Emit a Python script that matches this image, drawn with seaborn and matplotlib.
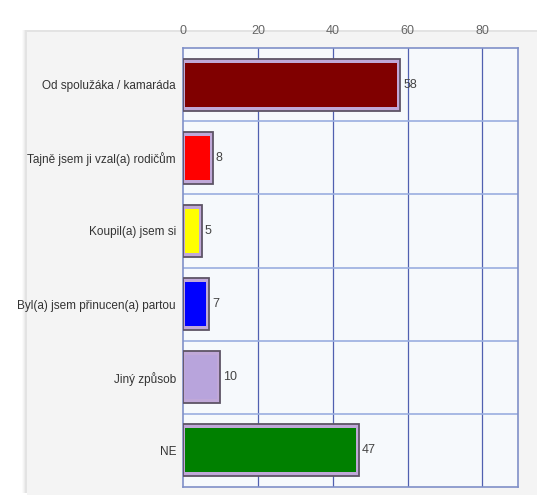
import matplotlib
matplotlib.use("Agg")
import matplotlib.pyplot as plt
import seaborn as sns
import pandas as pd
from matplotlib.patches import Rectangle

categories = ["Od spolužáka / kamaráda", "Tajně jsem ji vzal(a) rodičům", "Koupil(a) jsem si",
              "Byl(a) jsem přinucen(a) partou", "Jiný způsob", "NE"]
values = [58, 8, 5, 7, 10, 47]
colors = ["#800000", "#ff0000", "#ffff00", "#0000ff", "#b8a4dc", "#008000"]
xticks = [0, 20, 40, 60, 80]

df = pd.DataFrame({"cat": categories, "val": values})

sns.set_style("white")
plt.rcParams['font.family'] = ['Liberation Sans', 'DejaVu Sans']

W, H = 537, 501
fig = plt.figure(figsize=(W / 100, H / 100), dpi=100, facecolor="white")

# panel background with soft left shadow
for i, a in enumerate([0.05, 0.08, 0.12, 0.18]):
    fig.patches.append(Rectangle(((22 + i) / W, 8 / H), (W - 22 - i) / W, (H - 38) / H,
                                 transform=fig.transFigure, facecolor="#bbbbbb", alpha=a,
                                 edgecolor="none", zorder=-10))
fig.patches.append(Rectangle((27 / W, 6 / H), (W - 27) / W, (H - 38) / H,
                             transform=fig.transFigure, facecolor="#f4f4f4",
                             edgecolor="none", zorder=-9))

ax = fig.add_axes([183 / W, 1 - 487 / H, (518 - 183) / W, (487 - 48) / H])
ax.set_zorder(1)
ax.set_facecolor("#f6f9fc")

# outer (frame) bars
sns.barplot(data=df, x="val", y="cat", orient="h", ax=ax, width=0.71, saturation=1,
            color="#c0a8d8", edgecolor="#5e5466", linewidth=1.3, zorder=3)
# inner coloured bars
sns.barplot(data=df, x="val", y="cat", orient="h", ax=ax, width=0.6, saturation=1,
            hue="cat", palette=colors, legend=False, edgecolor="none",
            linewidth=0, zorder=4)
# shrink inner bars slightly from both ends
for p in ax.patches[len(values):]:
    p.set_x(p.get_x() + 0.5)
    p.set_width(max(p.get_width() - 1.3, 0.5))

for i, v in enumerate(values):
    ax.text(v + 0.8, i, str(v), va="center", ha="left", fontsize=9, color="#444444", zorder=5)

ax.set_xlim(0, 89.5)
ax.set_ylim(len(values) - 0.5, -0.5)
ax.set_xticks(xticks)
ax.xaxis.tick_top()
ax.tick_params(axis="x", length=0, labelsize=9, labelcolor="#666666", pad=8)
ax.tick_params(axis="y", length=0, labelsize=8.5, labelcolor="#333333", pad=5)
ax.set_xlabel("")
ax.set_ylabel("")

for x in xticks[1:]:
    ax.axvline(x, color="#5060b0", linewidth=0.9, zorder=1)
for y in [i + 0.5 for i in range(len(values) - 1)]:
    ax.axhline(y, color="#9aaee0", linewidth=1.2, zorder=1)

for s in ax.spines.values():
    s.set_color("#8090c8")
    s.set_linewidth(1.2)

fig.savefig("out.png", dpi=100, facecolor="white")
